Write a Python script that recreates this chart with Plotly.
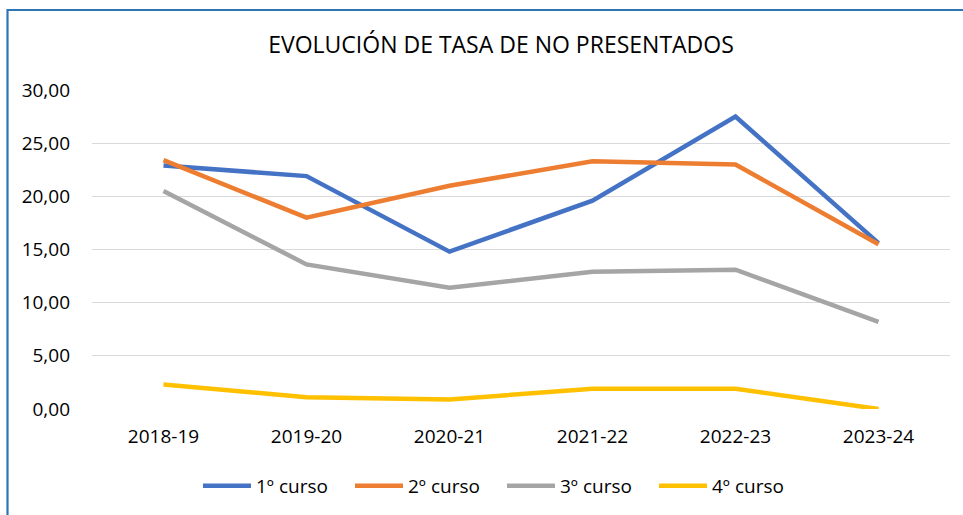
import plotly.graph_objects as go

categories = ["2018-19", "2019-20", "2020-21", "2021-22", "2022-23", "2023-24"]
curso1 = [22.9, 21.9, 14.8, 19.6, 27.5, 15.6]
curso2 = [23.4, 18.0, 21.0, 23.3, 23.0, 15.5]
curso3 = [20.5, 13.6, 11.4, 12.9, 13.1, 8.2]
curso4 = [2.3, 1.1, 0.9, 1.9, 1.9, 0.0]
series_names = ["1º curso", "2º curso", "3º curso", "4º curso"]
colors = ["#4472C4", "#ED7D31", "#A5A5A5", "#FFC000"]
y_ticks = [0, 5, 10, 15, 20, 25, 30]
y_tick_labels = ["0,00", "5,00", "10,00", "15,00", "20,00", "25,00", "30,00"]

FONT = "Open Sans"
fig = go.Figure()
for name, vals, col in zip(series_names, [curso1, curso2, curso3, curso4], colors):
    fig.add_trace(go.Scatter(x=categories, y=vals, mode="lines", name=name,
                             line=dict(color=col, width=4.5)))

W, H = 963, 515
ml, mr, mt, mb = 92, 13, 90, 106
pw, ph = W - ml - mr, H - mt - mb

def px_x(x):
    return (x - ml) / pw

def px_y(y):
    return (H - mb - y) / ph

fig.update_layout(
    width=W, height=H,
    margin=dict(l=ml, r=mr, t=mt, b=mb, autoexpand=False),
    paper_bgcolor="white", plot_bgcolor="white",
    font=dict(family=FONT, size=19, color="#000000"),
    title=dict(text="EVOLUCIÓN DE TASA DE NO PRESENTADOS", x=px_x(501), xref="paper",
               xanchor="center", y=1 - 45 / H, yanchor="middle",
               font=dict(family=FONT, size=23, color="#000000")),
    xaxis=dict(type="category", range=[-0.5, 5.5], showgrid=False, showline=False, ticks="",
               tickfont=dict(size=19), ticklabelstandoff=14),
    yaxis=dict(range=[0, 30], tickvals=y_ticks, ticktext=y_tick_labels,
               showgrid=True, gridcolor="#D9D9D9", gridwidth=1.3, zeroline=False,
               showline=False, ticks="", tickfont=dict(size=19), ticklabelstandoff=21),
    legend=dict(orientation="h", x=px_x(502), xanchor="center", y=px_y(486), yanchor="middle",
                font=dict(size=19), entrywidth=89, itemwidth=48),
    showlegend=True,
    shapes=[dict(type="rect", xref="paper", yref="paper",
                 x0=px_x(7.5), x1=px_x(990), y0=px_y(560), y1=px_y(10),
                 line=dict(color="#2E75B6", width=2.2), fillcolor="rgba(0,0,0,0)", layer="below")],
)
fig.write_html("out.html", config={"displayModeBar": False},
               post_script="document.body.style.margin='0';document.body.style.overflow='hidden';")
